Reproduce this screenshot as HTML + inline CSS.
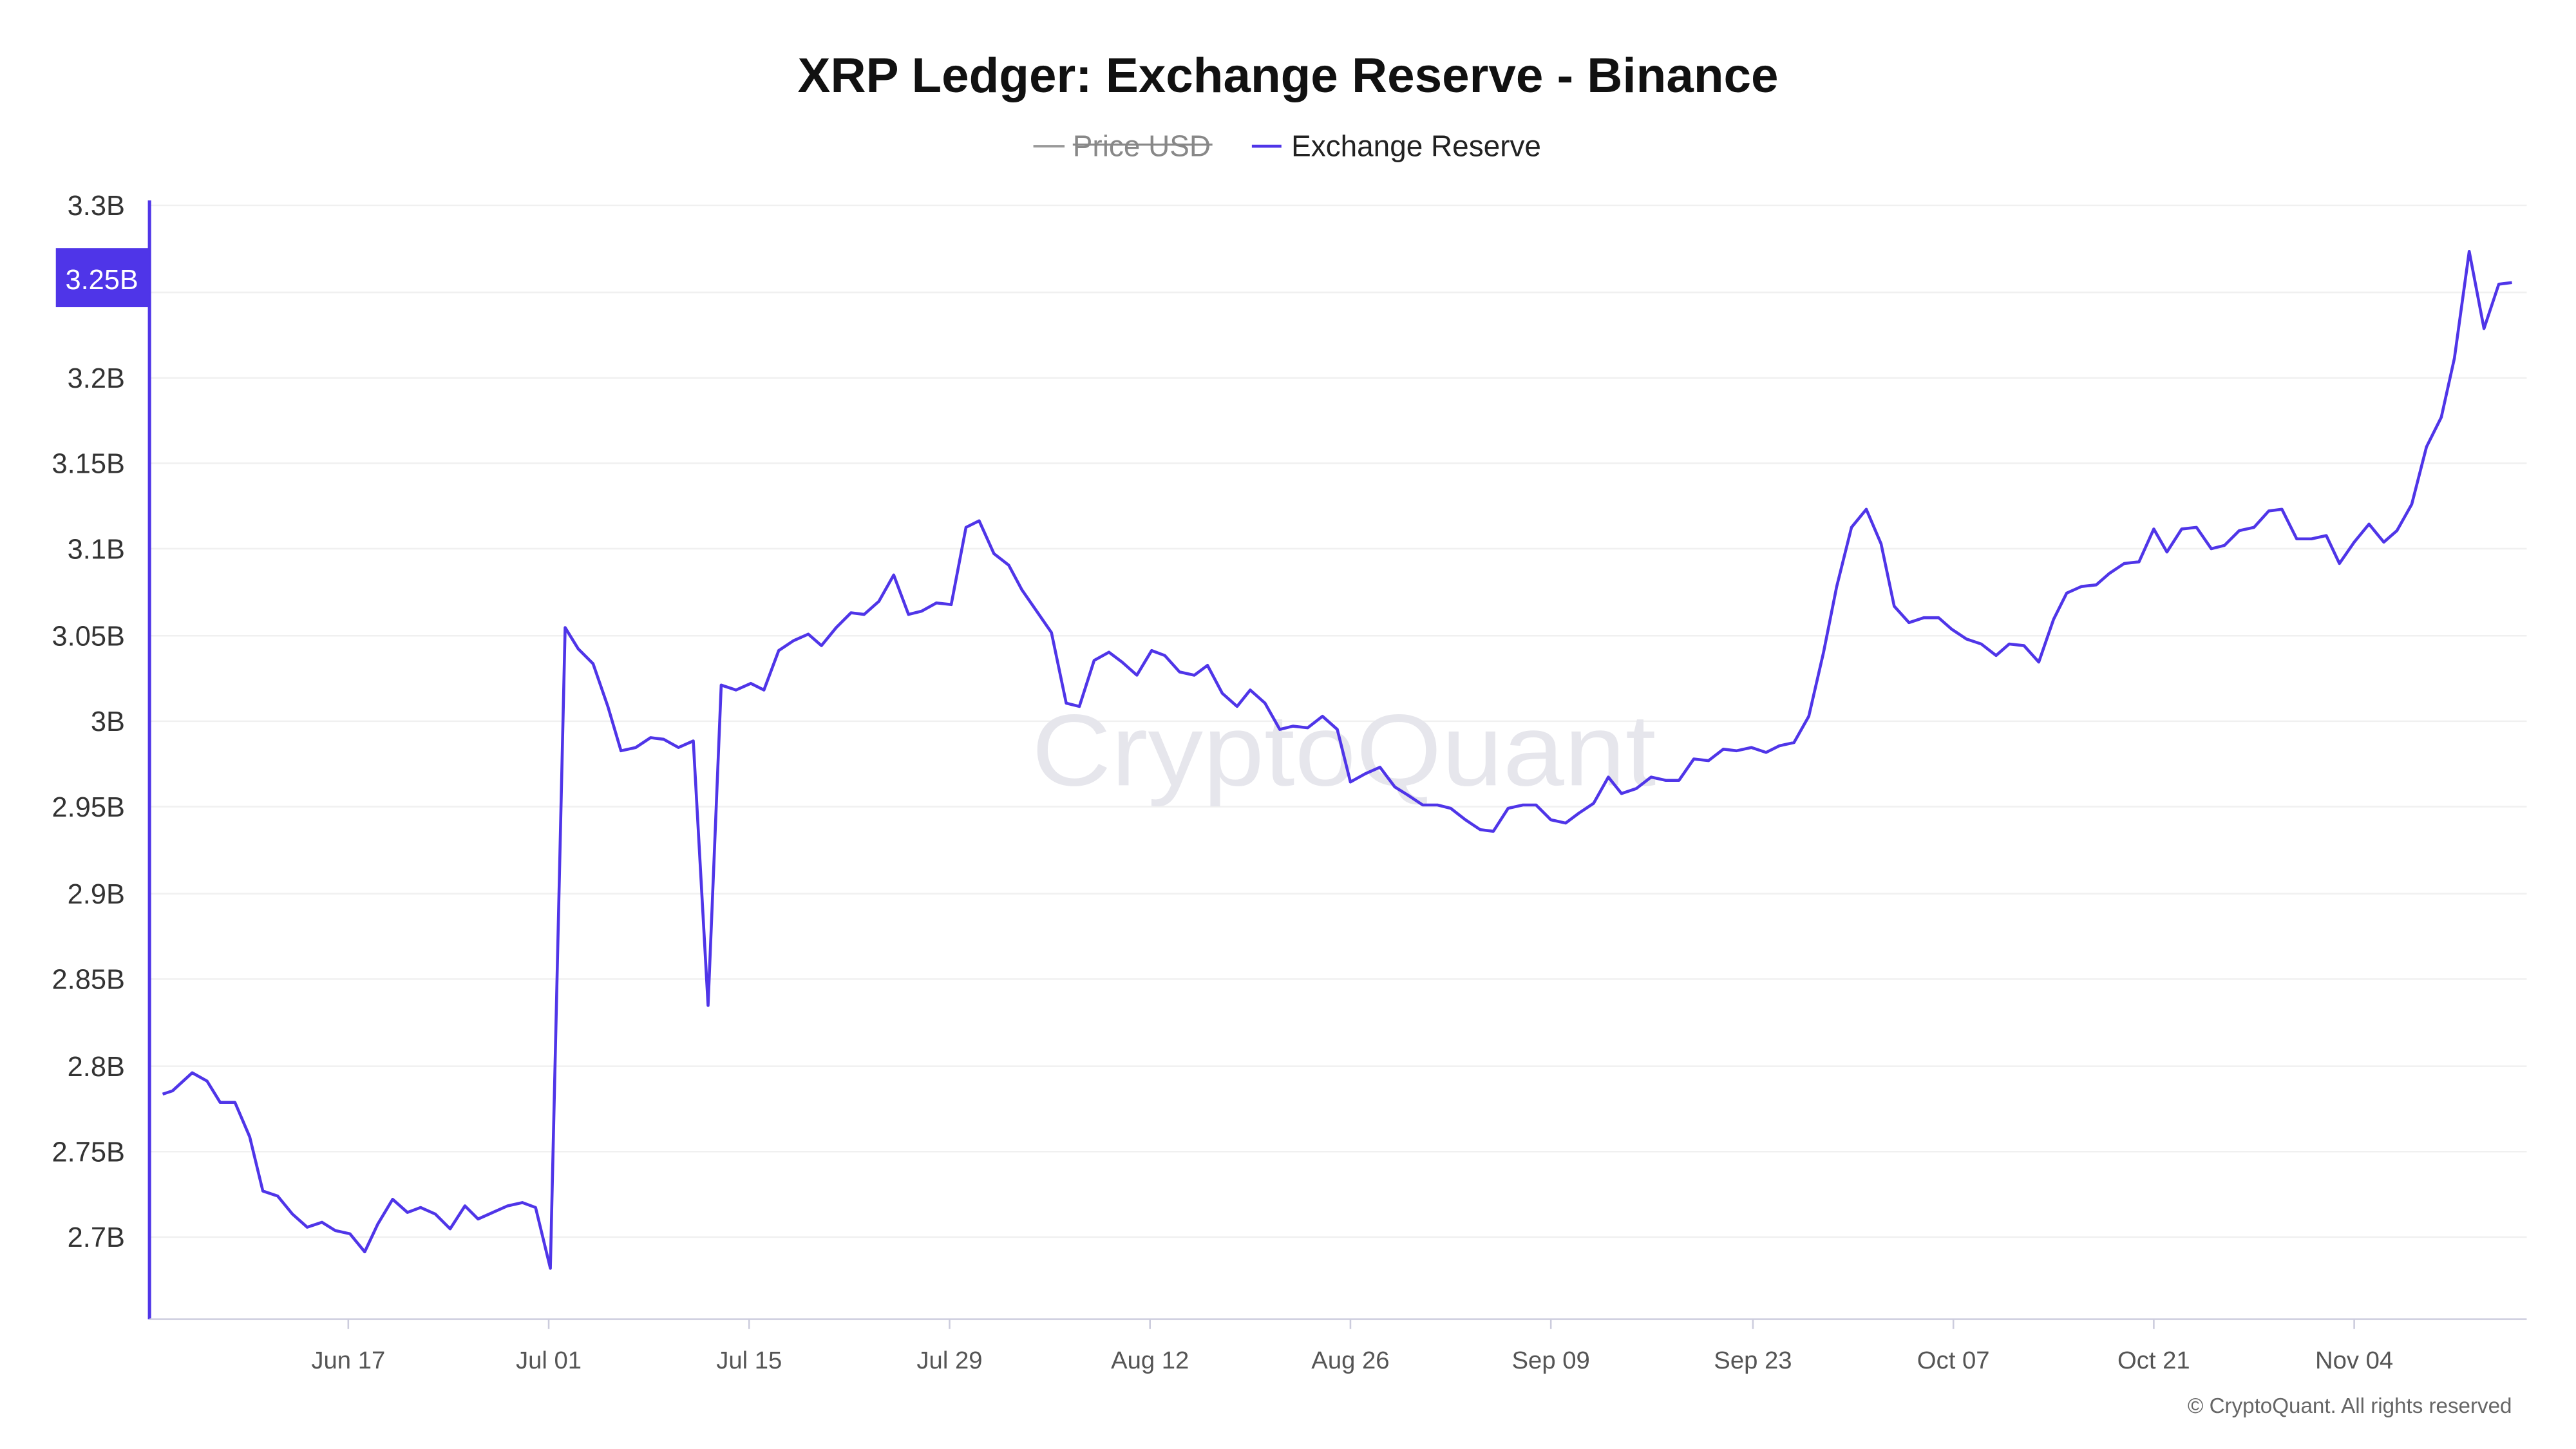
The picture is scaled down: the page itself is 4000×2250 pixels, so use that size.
<!DOCTYPE html>
<html><head><meta charset="utf-8"><style>
html,body{margin:0;padding:0;background:#fff;}
svg{display:block;}
text{font-family:"Liberation Sans","DejaVu Sans",sans-serif;}
</style></head><body>
<svg width="4000" height="2250" viewBox="0 0 1568 882" xmlns="http://www.w3.org/2000/svg">
<rect width="1568" height="882" fill="#fff"/>
<text x="784" y="56" text-anchor="middle" font-size="30" font-weight="bold" fill="#111" textLength="597" lengthAdjust="spacingAndGlyphs">XRP Ledger: Exchange Reserve - Binance</text>
<line x1="629" y1="89" x2="648" y2="89" stroke="#999" stroke-width="1.5"/>
<text x="653" y="95" font-size="18" fill="#888">Price USD</text>
<line x1="653" y1="88" x2="738" y2="88" stroke="#888" stroke-width="1.3"/>
<line x1="762" y1="89" x2="780" y2="89" stroke="#4f35e8" stroke-width="1.8"/>
<text x="786" y="95" font-size="18" fill="#222">Exchange Reserve</text>
<g stroke="#f0f0f0" stroke-width="1">
<line x1="91" y1="125" x2="1538" y2="125"/><line x1="91" y1="178" x2="1538" y2="178"/><line x1="91" y1="230" x2="1538" y2="230"/><line x1="91" y1="282" x2="1538" y2="282"/><line x1="91" y1="334" x2="1538" y2="334"/><line x1="91" y1="387" x2="1538" y2="387"/><line x1="91" y1="439" x2="1538" y2="439"/><line x1="91" y1="491" x2="1538" y2="491"/><line x1="91" y1="544" x2="1538" y2="544"/><line x1="91" y1="596" x2="1538" y2="596"/><line x1="91" y1="649" x2="1538" y2="649"/><line x1="91" y1="701" x2="1538" y2="701"/><line x1="91" y1="753" x2="1538" y2="753"/>
</g>
<g font-size="17" fill="#333" text-anchor="end">
<text x="76" y="131">3.3B</text><text x="76" y="236">3.2B</text><text x="76" y="288">3.15B</text><text x="76" y="340">3.1B</text><text x="76" y="393">3.05B</text><text x="76" y="445">3B</text><text x="76" y="497">2.95B</text><text x="76" y="550">2.9B</text><text x="76" y="602">2.85B</text><text x="76" y="655">2.8B</text><text x="76" y="707">2.75B</text><text x="76" y="759">2.7B</text>
</g>
<line x1="91" y1="122" x2="91" y2="803" stroke="#4f35e8" stroke-width="2"/>
<line x1="91" y1="803" x2="1538" y2="803" stroke="#ccd" stroke-width="1"/>
<g stroke="#ccd"><line x1="212" y1="803" x2="212" y2="809"/><line x1="334" y1="803" x2="334" y2="809"/><line x1="456" y1="803" x2="456" y2="809"/><line x1="578" y1="803" x2="578" y2="809"/><line x1="700" y1="803" x2="700" y2="809"/><line x1="822" y1="803" x2="822" y2="809"/><line x1="944" y1="803" x2="944" y2="809"/><line x1="1067" y1="803" x2="1067" y2="809"/><line x1="1189" y1="803" x2="1189" y2="809"/><line x1="1311" y1="803" x2="1311" y2="809"/><line x1="1433" y1="803" x2="1433" y2="809"/></g>
<g font-size="15" fill="#555" text-anchor="middle">
<text x="212" y="833">Jun 17</text><text x="334" y="833">Jul 01</text><text x="456" y="833">Jul 15</text><text x="578" y="833">Jul 29</text><text x="700" y="833">Aug 12</text><text x="822" y="833">Aug 26</text><text x="944" y="833">Sep 09</text><text x="1067" y="833">Sep 23</text><text x="1189" y="833">Oct 07</text><text x="1311" y="833">Oct 21</text><text x="1433" y="833">Nov 04</text>
</g>
<text x="818" y="478" text-anchor="middle" font-size="62" fill="#e6e6ec" textLength="380" lengthAdjust="spacingAndGlyphs">CryptoQuant</text>
<polyline fill="none" stroke="#4f35e8" stroke-width="1.8" stroke-linejoin="round" points="99,666 105,664 117,653 126,658 134,671 143,671 152,692 160,725 169,728 178,739 187,747 196,744 204,749 213,751 222,762 230,745 239,730 248,738 256,735 265,739 274,748 283,734 291,742 300,738 309,734 318,732 326,735 335,772 344,382 352,395 361,404 370,430 378,457 387,455 396,449 404,450 413,455 422,451 431,612 439,417 448,420 457,416 465,420 474,396 483,390 492,386 500,393 509,382 518,373 526,374 535,366 544,350 553,374 561,372 570,367 579,368 588,321 596,317 605,337 614,344 622,359 631,372 640,385 649,428 657,430 666,402 675,397 683,403 692,411 701,396 709,399 718,409 727,411 735,405 744,422 753,430 761,420 770,428 779,444 787,442 796,443 805,436 814,444 822,476 831,471 840,467 849,479 857,484 866,490 875,490 883,492 892,499 901,505 909,506 918,492 927,490 935,490 944,499 953,501 961,495 970,489 979,473 987,483 996,480 1005,473 1014,475 1022,475 1031,462 1040,463 1049,456 1057,457 1066,455 1075,458 1083,454 1092,452 1101,436 1110,397 1118,357 1127,321 1136,310 1145,331 1153,369 1162,379 1171,376 1180,376 1188,383 1197,389 1206,392 1215,399 1223,392 1232,393 1241,403 1250,377 1258,361 1267,357 1276,356 1284,349 1293,343 1302,342 1311,322 1319,336 1328,322 1337,321 1346,334 1354,332 1363,323 1372,321 1381,311 1389,310 1398,328 1407,328 1416,326 1424,343 1433,330 1442,319 1451,330 1459,323 1468,307 1477,272 1486,254 1494,218 1503,153 1512,200 1521,173 1529,172"/>
<rect x="34" y="151" width="57" height="36" fill="#4f35e8"/>
<text x="62" y="176" text-anchor="middle" font-size="17" fill="#fff">3.25B</text>
<text x="1529" y="860" text-anchor="end" font-size="13" fill="#666">© CryptoQuant. All rights reserved</text>
</svg>
</body></html>
